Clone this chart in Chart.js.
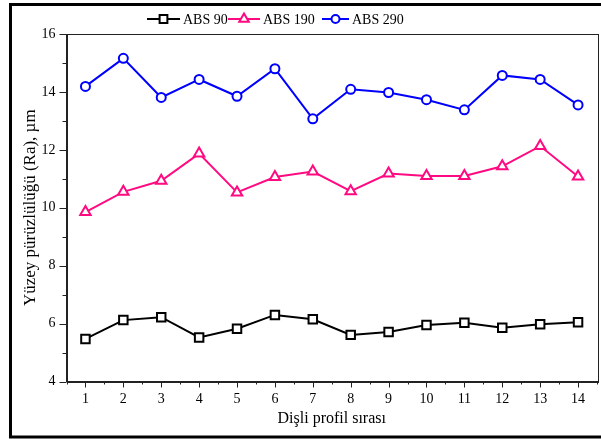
<!DOCTYPE html>
<html>
<head>
<meta charset="utf-8">
<script src="https://cdn.jsdelivr.net/npm/chart.js@4.4.1/dist/chart.umd.min.js"></script>
<style>
    html, body { margin: 0; padding: 0; background: #fff; overflow: hidden; }
    #wrap { width: 601px; height: 439px; position: relative; overflow: hidden; }
    #surface-chart { display: block; width: 605px; height: 439px; }
</style>
</head>
<body>
<div id="wrap"><canvas id="surface-chart" width="605" height="439"></canvas></div>
<script>
const chartDiv = document.getElementById('surface-chart')

// Dişli profil sırası (x) ve Ra değerleri
const profiles = [1, 2, 3, 4, 5, 6, 7, 8, 9, 10, 11, 12, 13, 14]
const abs90 = [5.47, 6.12, 6.22, 5.52, 5.82, 6.3, 6.15, 5.61, 5.71, 5.95, 6.03, 5.86, 5.98, 6.05]
const abs190 = [9.85, 10.55, 10.93, 11.87, 10.53, 11.06, 11.25, 10.57, 11.18, 11.1, 11.1, 11.43, 12.13, 11.08]
const abs290 = [14.19, 15.16, 13.81, 14.43, 13.85, 14.8, 13.07, 14.09, 13.98, 13.73, 13.38, 14.57, 14.43, 13.55]
const seriesNames = ['ABS 90', 'ABS 190', 'ABS 290']
const yTicks = [4, 6, 8, 10, 12, 14, 16]

const serif = '"Liberation Serif", "Times New Roman", serif'

const styles = [
    { color: '#000000', point: 'rect', radius: 6 },
    { color: '#ff0a80', point: 'triangle', radius: 6 },
    { color: '#0000ff', point: 'circle', radius: 4.5 }
]

const toPoints = vals => vals.map((v, i) => ({ x: profiles[i], y: v }))

const noPadding = () => ({ left: 0, right: 0, top: 0, bottom: 0 })

// Extra drawing: frame, plot box, tick marks, legend
const decorations = {
    id: 'decorations',
    beforeDraw(chart) {
        const ctx = chart.ctx
        ctx.save()
        ctx.fillStyle = '#fff'
        ctx.fillRect(0, 0, chart.width, chart.height)
        ctx.restore()
    },
    afterDatasetsDraw(chart) {
        const { ctx, chartArea: a, scales: { x, y } } = chart
        ctx.save()
        ctx.strokeStyle = '#222'
        ctx.lineWidth = 1
        ctx.strokeRect(Math.round(a.left) + 0.5, Math.round(a.top) + 0.5,
            Math.round(a.right - a.left), Math.round(a.bottom - a.top))

        ctx.beginPath()
        for (let v = 4; v <= 16; v += 1) {
            const py = Math.round(y.getPixelForValue(v)) + 0.5
            const len = v % 2 === 0 ? 7 : 4
            ctx.moveTo(a.left, py)
            ctx.lineTo(a.left - len, py)
        }
        for (let v = 0.5; v <= 14.5; v += 0.5) {
            const px = Math.round(x.getPixelForValue(v)) + 0.5
            const len = Number.isInteger(v) ? 6 : 3
            ctx.moveTo(px, a.bottom)
            ctx.lineTo(px, a.bottom + len)
        }
        ctx.stroke()

        // outer frame
        ctx.strokeStyle = '#000'
        ctx.lineWidth = 3
        ctx.strokeRect(10.5, 4.5, 600, 432.5)

        // legend
        const items = [
            { lx: 147, lw: 33 },
            { lx: 228, lw: 32 },
            { lx: 322, lw: 27 }
        ]
        const ly = 19
        ctx.font = '14px ' + serif
        ctx.textBaseline = 'middle'
        ctx.fillStyle = '#000'
        items.forEach((it, i) => {
            const s = styles[i]
            ctx.strokeStyle = s.color
            ctx.lineWidth = 2
            ctx.beginPath()
            ctx.moveTo(it.lx, ly)
            ctx.lineTo(it.lx + it.lw, ly)
            ctx.stroke()
            ctx.fillStyle = '#fff'
            Chart.helpers.drawPoint(ctx, {
                pointStyle: s.point,
                radius: s.radius - 0.5,
                borderWidth: 2
            }, it.lx + it.lw / 2, ly)
            ctx.fillStyle = '#000'
            ctx.fillText(seriesNames[i], it.lx + it.lw + 3, ly + 1)
        })
        ctx.restore()
    }
}

new Chart(chartDiv, {
    type: 'line',
    data: {
        datasets: seriesNames.map((name, i) => ({
            label: name,
            data: toPoints([abs90, abs190, abs290][i]),
            borderColor: styles[i].color,
            backgroundColor: '#ffffff',
            borderWidth: 2,
            pointStyle: styles[i].point,
            pointRadius: styles[i].radius,
            pointHoverRadius: styles[i].radius,
            pointBorderWidth: 2,
            pointBorderColor: styles[i].color,
            pointBackgroundColor: '#ffffff',
            tension: 0
        }))
    },
    plugins: [decorations],
    options: {
        responsive: false,
        animation: false,
        devicePixelRatio: 1,
        layout: {
            padding: { top: 34, right: 8, left: 20, bottom: 0 }
        },
        plugins: {
            legend: { display: false },
            tooltip: { enabled: false }
        },
        scales: {
            x: {
                type: 'linear',
                min: 0.5,
                max: 14.5,
                grid: { display: false, drawTicks: false },
                border: { display: true, color: '#222', width: 1 },
                afterBuildTicks: scale => {
                    scale.ticks = profiles.map(v => ({ value: v }))
                },
                afterFit: scale => {
                    scale.height = 57.5
                    scale.getPadding = noPadding
                },
                ticks: {
                    padding: 9,
                    color: '#000',
                    font: { family: serif, size: 14 },
                    maxRotation: 0,
                    autoSkip: false
                },
                title: {
                    display: true,
                    text: 'Dişli profil sırası',
                    color: '#000',
                    font: { family: serif, size: 16 },
                    padding: { top: 4, bottom: 11 }
                }
            },
            y: {
                min: 4,
                max: 16,
                grid: { display: false, drawTicks: false },
                border: { display: true, color: '#222', width: 1 },
                afterBuildTicks: scale => {
                    scale.ticks = yTicks.map(v => ({ value: v }))
                },
                afterFit: scale => {
                    scale.width = 46.5
                    scale.getPadding = noPadding
                },
                ticks: {
                    padding: 11,
                    color: '#000',
                    font: { family: serif, size: 14 }
                },
                title: {
                    display: true,
                    text: 'Yüzey pürüzlülüğü (Ra), µm',
                    color: '#000',
                    font: { family: serif, size: 17 },
                    padding: { top: 0, bottom: 0 }
                }
            }
        }
    }
})
</script>
</body>
</html>
